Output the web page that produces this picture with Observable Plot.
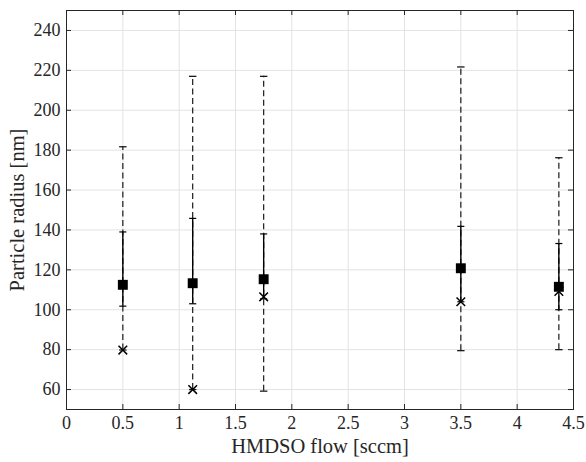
<!DOCTYPE html>
<html>
<head>
<meta charset="utf-8">
<script src="https://cdn.jsdelivr.net/npm/d3@7"></script>
<script src="https://cdn.jsdelivr.net/npm/@observablehq/plot@0.6"></script>
<style>
  html, body { margin: 0; padding: 0; background: #fff; }
  #chart svg { display: block; }
</style>
</head>
<body>
<div id="chart"></div>
<script>
// ---- data ----
const flow      = [0.5, 1.12, 1.75, 3.5, 4.37];
const meanR     = [112.5, 113.3, 115.3, 120.8, 111.5];
const solidLow  = [101.8, 103.0, 105.5, 104.0, 100.0];
const solidHigh = [139.0, 145.8, 138.0, 141.8, 133.2];
const dashLow   = [79.8, 60.0, 59.2, 79.5, 80.0];
const dashHigh  = [181.7, 217.0, 217.0, 221.7, 176.2];
const crossR    = [79.8, 60.0, 106.5, 104.0, 109.2];
const xTicks = [0, 0.5, 1, 1.5, 2, 2.5, 3, 3.5, 4, 4.5];
const yTicks = [60, 80, 100, 120, 140, 160, 180, 200, 220, 240];
const xDomain = [0, 4.5];
const yDomain = [50, 250];
const xLabel = "HMDSO flow [sccm]";
const yLabel = "Particle radius [nm]";

const rows = flow.map((f, i) => ({
  flow: f, mean: meanR[i], sLo: solidLow[i], sHi: solidHigh[i],
  dLo: dashLow[i], dHi: dashHigh[i], cross: crossR[i]
}));

const W = 586, H = 462;
const mL = 66, mR = 13, mT = 10, mB = 53;
const pw = W - mL - mR, ph = H - mT - mB;
const tl = 5; // inward tick length (px)

const hcap = {draw(ctx, size) { const w = Math.sqrt(size) / 2; ctx.moveTo(-w, 0); ctx.lineTo(w, 0); }};
const font = "'Liberation Serif', 'DejaVu Serif', serif";
const ink = "#262626";

const chart = Plot.plot({
  width: W, height: H,
  marginLeft: mL, marginRight: mR, marginTop: mT, marginBottom: mB,
  style: {fontFamily: font, fontSize: "18px", color: ink, background: "#fff"},
  x: {domain: xDomain, ticks: xTicks, axis: null},
  y: {domain: yDomain, ticks: yTicks, axis: null},
  marks: [
    Plot.gridX(xTicks, {stroke: "#e3e3e3", strokeOpacity: 1, strokeWidth: 1}),
    Plot.gridY(yTicks, {stroke: "#e3e3e3", strokeOpacity: 1, strokeWidth: 1}),
    // tick labels
    Plot.text(xTicks, {x: d => d, text: d => String(d), frameAnchor: "bottom", dy: 14, lineAnchor: "middle", textAnchor: "middle", fontFamily: font, fontSize: 18, fill: ink}),
    Plot.text(yTicks, {y: d => d, text: d => String(d), frameAnchor: "left", dx: -6, lineAnchor: "middle", textAnchor: "end", fontFamily: font, fontSize: 18, fill: ink}),
    // axis labels
    Plot.text([xLabel], {text: d => d, frameAnchor: "bottom", dy: 37, lineAnchor: "middle", textAnchor: "middle", fontFamily: font, fontSize: 20.5, fill: ink}),
    Plot.text([yLabel], {text: d => d, frameAnchor: "left", dx: -49, rotate: -90, lineAnchor: "middle", textAnchor: "middle", fontFamily: font, fontSize: 20.5, fill: ink}),
    // dashed outer range
    Plot.ruleX(rows, {x: "flow", y1: "dLo", y2: "dHi", stroke: "#1a1a1a", strokeWidth: 1.2, strokeDasharray: "6,3.5"}),
    Plot.dot(rows, {x: "flow", y: "dLo", symbol: hcap, r: 4.2, stroke: "#1a1a1a", strokeWidth: 1.3, fill: "none"}),
    Plot.dot(rows, {x: "flow", y: "dHi", symbol: hcap, r: 4.2, stroke: "#1a1a1a", strokeWidth: 1.3, fill: "none"}),
    // solid inner range
    Plot.ruleX(rows, {x: "flow", y1: "sLo", y2: "sHi", stroke: "#000", strokeWidth: 1.4}),
    Plot.dot(rows, {x: "flow", y: "sLo", symbol: hcap, r: 4, stroke: "#000", strokeWidth: 1.2, fill: "none"}),
    Plot.dot(rows, {x: "flow", y: "sHi", symbol: hcap, r: 4, stroke: "#000", strokeWidth: 1.2, fill: "none"}),
    // cross markers
    Plot.dot(rows, {x: "flow", y: "cross", symbol: "times", r: 4, stroke: "#000", strokeWidth: 1.5, fill: "none"}),
    // mean squares
    Plot.dot(rows, {x: "flow", y: "mean", symbol: "square", r: 5.6, fill: "#000", stroke: "none"}),
    // inward ticks on all four sides
    Plot.tickX(xTicks, {x: d => d, insetTop: ph - tl, stroke: ink}),
    Plot.tickX(xTicks, {x: d => d, insetBottom: ph - tl, stroke: ink}),
    Plot.tickY(yTicks, {y: d => d, insetRight: pw - tl, stroke: ink}),
    Plot.tickY(yTicks, {y: d => d, insetLeft: pw - tl, stroke: ink}),
    Plot.frame({stroke: ink, strokeWidth: 1})
  ]
});
document.getElementById("chart").appendChild(chart);
</script>
</body>
</html>
